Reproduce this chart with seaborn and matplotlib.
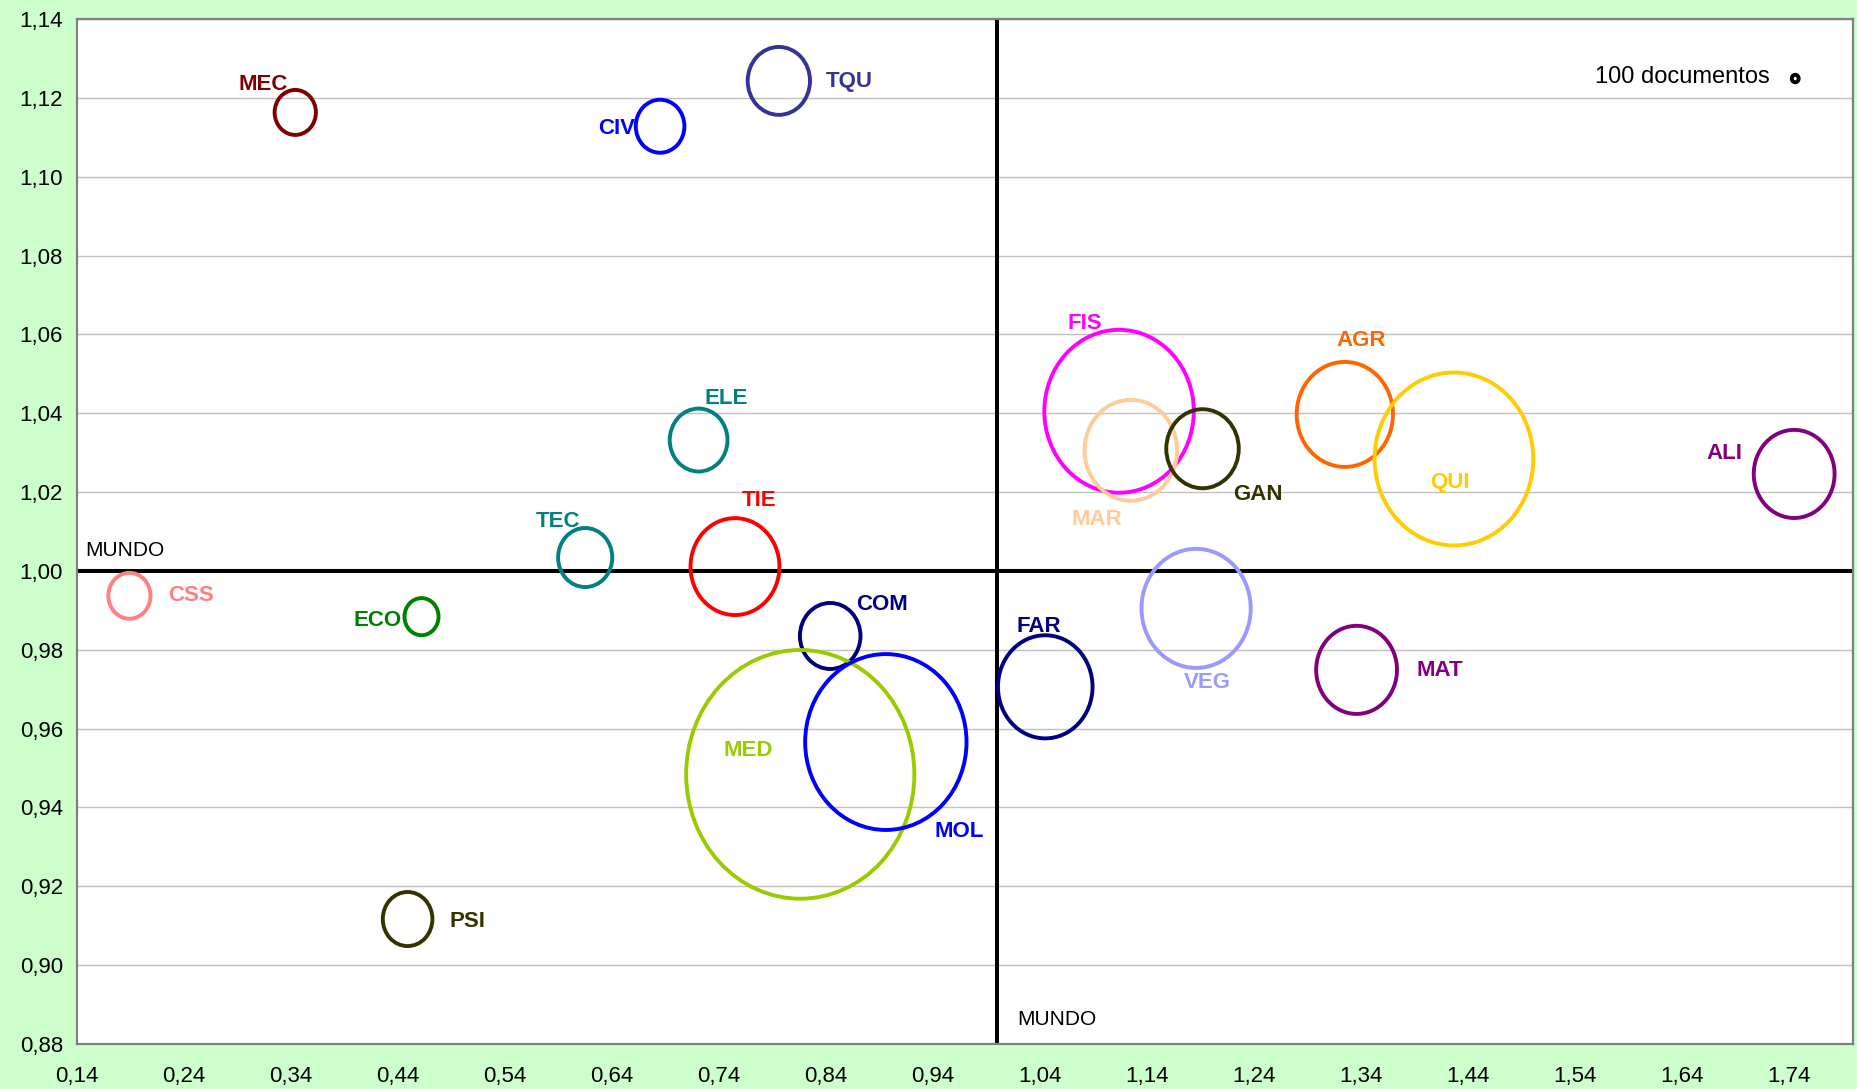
import numpy as np
import pandas as pd
import matplotlib
matplotlib.use("Agg")
import matplotlib.pyplot as plt
from matplotlib.path import Path
import seaborn as sns

# areas tematicas, valores
areas = ["MEC", "CIV", "TQU", "ELE", "TEC", "TIE", "CSS", "ECO", "PSI", "COM", "MED",
         "MOL", "FAR", "VEG", "MAT", "FIS", "MAR", "GAN", "AGR", "QUI", "ALI",
         "100 documentos"]
eje_x = [0.344, 0.685, 0.796, 0.721, 0.615, 0.755, 0.189, 0.462, 0.449, 0.844, 0.816,
         0.896, 1.045, 1.186, 1.336, 1.114, 1.125, 1.192, 1.325, 1.427, 1.745,
         1.746]
eje_y = [1.1163, 1.1128, 1.1243, 1.0332, 1.0034, 1.0011, 0.9937, 0.9884, 0.9117, 0.9835,
         0.9484, 0.9566, 0.9706, 0.9905, 0.9749, 1.0405, 1.0306, 1.0310, 1.0397, 1.0284,
         1.0246, 1.1249]
documentos = [3600, 5000, 8200, 7050, 6200, 16700, 3750, 2450, 5200, 7750, 110000,
              55000, 18900, 25200, 13800, 47200, 18100, 11100, 19600, 53200, 13800,
              100]
colores = ["#800000", "#0000FF", "#333399", "#008080", "#008080", "#FF0000", "#FF8080",
           "#008000", "#333300", "#000080", "#99CC00", "#0000FF", "#000080", "#9999FF",
           "#800080", "#FF00FF", "#FFCC99", "#333300", "#FF6600", "#FFCC00", "#800080",
           "#000000"]
MUNDO = 1.0

xticks = np.round(np.arange(0.14, 1.75, 0.1), 2)
yticks = np.round(np.arange(0.88, 1.141, 0.02), 2)

# desplazamiento de las etiquetas (pixeles, y hacia abajo)
desp = {"MEC": (-32, -30.5), "CIV": (-43, 0), "TQU": (70, -2), "ELE": (28, -44),
        "TEC": (-27, -38.5), "TIE": (24.5, -68.5), "CSS": (62, -2.5), "ECO": (-43.5, 1.5),
        "PSI": (60, 0), "COM": (51.5, -33.5), "MED": (-52, -26.5), "MOL": (73.5, 87),
        "FAR": (-6.5, -63), "VEG": (11.5, 71.5), "MAT": (83, -1.5), "FIS": (-34, -90),
        "MAR": (-33.5, 67), "GAN": (55.5, 43), "AGR": (16, -76), "QUI": (-4, 21),
        "ALI": (-69.5, -22.5)}

df = pd.DataFrame({"area": areas, "x": eje_x, "y": eje_y, "docs": documentos})

sns.set_style("white")
plt.rcParams["font.family"] = ["Liberation Sans", "DejaVu Sans"]

fig = plt.figure(figsize=(18.57, 10.89), dpi=100, facecolor="#CCFFCC")
ax = fig.add_axes([0.04147, 0.04132, 0.95638, 0.94123])
ax.set_facecolor("white")

ax.set_xlim(0.14, 1.80)
ax.set_ylim(0.88, 1.14)
ax.set_yticks(yticks)
ax.set_xticks(xticks)
ax.set_yticklabels([f"{v:.2f}".replace(".", ",") for v in yticks], fontsize=16)
ax.set_xticklabels([f"{v:.2f}".replace(".", ",") for v in xticks], fontsize=16)
ax.tick_params(axis="both", length=0, colors="black")
ax.tick_params(axis="y", pad=10)
ax.tick_params(axis="x", pad=16)
ax.grid(axis="y", color="#C0C0C0", linewidth=1.0)
ax.grid(axis="x", visible=False)
ax.set_axisbelow(True)
for s in ax.spines.values():
    s.set_color("#808080")
    s.set_linewidth(1.6)

ax.axhline(MUNDO, color="black", linewidth=2.9, zorder=1.5)
ax.axvline(MUNDO, color="black", linewidth=2.9, zorder=1.5)

# marcador eliptico (las burbujas salen algo mas altas que anchas)
circ = Path.unit_circle()
elipse = Path(circ.vertices * np.array([1 / 1.09, 1.0]), circ.codes)

esc = 0.2916  # area del marcador por documento
sns.scatterplot(data=df, x="x", y="y", hue="area", palette=dict(zip(areas, colores)),
                size="docs", sizes=(esc * min(documentos), esc * max(documentos)),
                size_norm=(min(documentos), max(documentos)), marker=elipse,
                legend=False, ax=ax, zorder=3)
coll = ax.collections[-1]
fc = coll.get_facecolors()
coll.set_edgecolors(fc)
coll.set_facecolors("none")
coll.set_linewidths(2.8)

for a, xv, yv, c in zip(areas, eje_x, eje_y, colores):
    if a in desp:
        dx, dy = desp[a]
        ax.annotate(a, (xv, yv), xytext=(dx * 0.72, -(dy + 8) * 0.72),
                    textcoords="offset points", ha="center", va="baseline",
                    color=c, fontsize=16, fontweight="bold", zorder=4)
    else:
        ax.annotate(a, (xv, yv), xytext=(-25 * 0.72, -4.5 * 0.72),
                    textcoords="offset points", ha="right", va="baseline",
                    color="black", fontsize=17, zorder=4)

ax.annotate("MUNDO", (0.14, MUNDO), xytext=(8 * 0.72, 15 * 0.72), textcoords="offset points",
            ha="left", va="baseline", fontsize=15, color="black")
ax.annotate("MUNDO", (MUNDO, 0.88), xytext=(20 * 0.72, 19 * 0.72), textcoords="offset points",
            ha="left", va="baseline", fontsize=15, color="black")

ax.set_xlabel("")
ax.set_ylabel("")

fig.savefig("out.png", dpi=100, facecolor=fig.get_facecolor())
